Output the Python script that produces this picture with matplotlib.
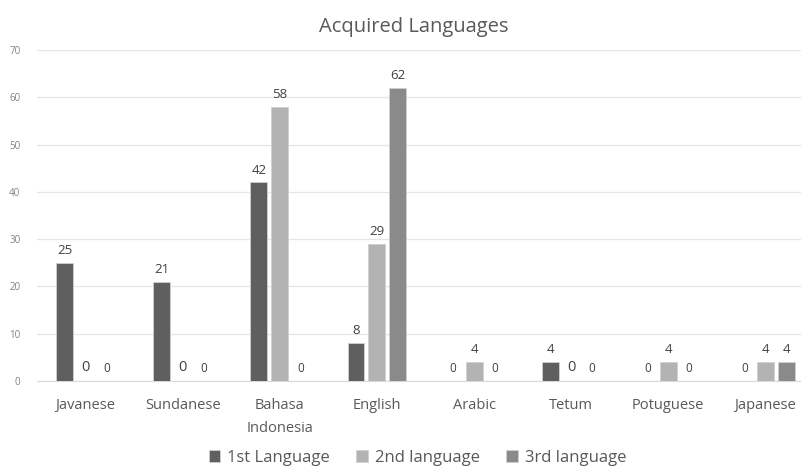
import numpy as np
import matplotlib.pyplot as plt

# values
languages = ['Javanese', 'Sundanese', 'Bahasa\nIndonesia', 'English',
             'Arabic', 'Tetum', 'Potuguese', 'Japanese']
first_lang = [25, 21, 42, 8, 0, 4, 0, 0]
second_lang = [0, 0, 58, 29, 4, 0, 4, 4]
third_lang = [0, 0, 0, 62, 0, 0, 0, 4]
series_names = ['1st Language', '2nd language', '3rd language']
series_colors = ['#5f5f5f', '#b3b3b3', '#8a8a8a']

plt.rcParams['font.family'] = ['Open Sans', 'DejaVu Sans']

fig = plt.figure(figsize=(8.01, 4.66), dpi=100)
ax = fig.add_axes([0.0462, 0.1824, 0.970, 0.7103])

x = np.arange(len(languages))
width = 0.174
step = 0.215

for i, (vals, name, col) in enumerate(zip([first_lang, second_lang, third_lang],
                                          series_names, series_colors)):
    pos = x + (i - 1) * step
    ax.bar(pos, vals, width, color=col, label=name,
           edgecolor='#d0d0d0', linewidth=0.6, zorder=3)
    for p, v in zip(pos, vals):
        # the zero labels of the 2nd series are drawn a bit larger
        if v == 0:
            fs = 10.5 if i == 1 else 8.5
        else:
            fs = 9.5
        ax.text(p, v + 1.2, str(v), ha='center', va='bottom',
                fontsize=fs, color='#404040')

ax.set_xlim(-0.5, len(languages) - 0.5)
ax.set_ylim(0, 70)
ax.set_yticks(range(0, 71, 10))
ax.set_xticks(x)
ax.set_xticklabels(languages, fontsize=10.5, color='#595959', linespacing=1.8)
ax.tick_params(axis='y', length=0, pad=12, labelsize=7, labelcolor='#808080')
ax.tick_params(axis='x', length=0, pad=12)
for lbl in ax.get_yticklabels():
    lbl.set_horizontalalignment('right')

ax.grid(axis='y', color='#e6e6e6', linewidth=0.9, zorder=0)
for side in ['top', 'right', 'left']:
    ax.spines[side].set_visible(False)
ax.spines['bottom'].set_color('#d9d9d9')

fig.text(0.517, 0.943, 'Acquired Languages', ha='center', va='center',
         fontsize=14.5, color='#595959')

fig.legend(loc='center', bbox_to_anchor=(0.521, 0.017), ncol=3, frameon=False,
           fontsize=12, labelcolor='#595959', handlelength=0.7, handleheight=0.7,
           handletextpad=0.4, columnspacing=1.6)

fig.savefig('out.png', dpi=100)
